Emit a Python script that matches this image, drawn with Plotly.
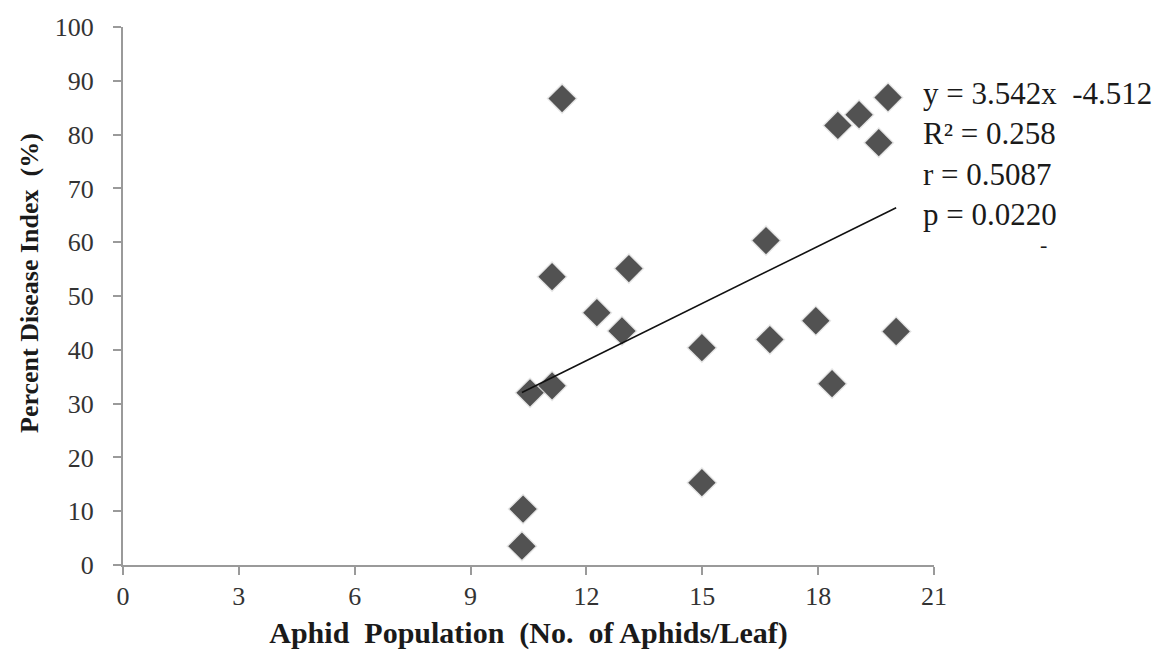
import plotly.graph_objects as go

# Data
aphids = [11.37, 19.81, 19.06, 18.51, 19.57, 16.65, 11.11, 13.10, 12.27, 12.92,
          14.99, 16.75, 10.54, 11.11, 14.99, 10.36, 10.33, 17.94, 20.02, 18.36]
pdi = [86.7, 86.9, 83.7, 81.7, 78.5, 60.3, 53.6, 55.1, 46.9, 43.5,
       40.4, 41.9, 32.0, 33.3, 15.3, 10.4, 3.5, 45.4, 43.4, 33.7]

slope = 3.542
intercept = -4.512
stats_lines = ["y = 3.542x&nbsp;&nbsp;-4.512", "R² = 0.258", "r = 0.5087", "p = 0.0220"]

x_ticks = [0, 3, 6, 9, 12, 15, 18, 21]
y_ticks = [0, 10, 20, 30, 40, 50, 60, 70, 80, 90, 100]

FONT = "Liberation Serif"
AXC = "#9a9a9a"

fig = go.Figure()

# soft shadow under markers
fig.add_trace(go.Scatter(
    x=aphids, y=pdi, mode="markers",
    marker=dict(symbol="diamond", size=24, color="rgba(0,0,0,0.10)", line=dict(width=0)),
    hoverinfo="skip", showlegend=False))

fig.add_trace(go.Scatter(
    x=aphids, y=pdi, mode="markers",
    marker=dict(symbol="diamond", size=21, color="#525252", line=dict(width=0)),
    showlegend=False))

xmin, xmax = min(aphids), max(aphids)
fig.add_trace(go.Scatter(
    x=[xmin, xmax], y=[slope * xmin + intercept, slope * xmax + intercept],
    mode="lines", line=dict(color="#111111", width=1.6), showlegend=False))

fig.add_annotation(
    x=1.0, xref="paper", xanchor="left", xshift=-13,
    y=1.0, yref="paper", yanchor="top", yshift=-47,
    text="<br>".join(stats_lines), showarrow=False, align="left",
    font=dict(family=FONT, size=31, color="#1a1a1a"))

fig.add_annotation(
    x=1.0, xref="paper", xanchor="center", xshift=109,
    y=1.0, yref="paper", yanchor="middle", yshift=-217,
    text="-", showarrow=False,
    font=dict(family=FONT, size=22, color="#1a1a1a"))

# y-axis title
fig.add_annotation(
    x=0, xref="paper", xanchor="center", xshift=-94,
    y=0.5, yref="paper", yanchor="middle", yshift=13,
    text="<b>Percent Disease Index&nbsp;&nbsp;(%)</b>", textangle=-90, showarrow=False,
    font=dict(family=FONT, size=26, color="#1a1a1a"))

fig.update_layout(
    width=1168, height=650,
    margin=dict(l=123, r=234, t=27, b=85),
    paper_bgcolor="white", plot_bgcolor="white",
    font=dict(family=FONT, color="#333333"),
    xaxis=dict(
        range=[0, 21], tickvals=x_ticks, ticktext=[str(v) for v in x_ticks],
        showgrid=False, zeroline=False, showline=True, linecolor=AXC, linewidth=2,
        ticks="outside", ticklen=8, tickcolor=AXC, tickwidth=1.5, automargin=False,
        tickfont=dict(family=FONT, size=26, color="#333333"), ticklabelstandoff=-1,
        title=dict(text="<b>Aphid&nbsp;&nbsp;Population&nbsp;&nbsp;(No.&nbsp;&nbsp;of Aphids/Leaf)</b>",
                   font=dict(family=FONT, size=30, color="#1a1a1a"), standoff=18)),
    yaxis=dict(
        range=[0, 100], tickvals=y_ticks, ticktext=[str(v) for v in y_ticks],
        showgrid=False, zeroline=False, showline=True, linecolor=AXC, linewidth=2,
        ticks="outside", ticklen=8, tickcolor=AXC, tickwidth=1.5, automargin=False,
        tickfont=dict(family=FONT, size=26, color="#333333"), ticklabelstandoff=14),
)

fig.write_html("out.html")
